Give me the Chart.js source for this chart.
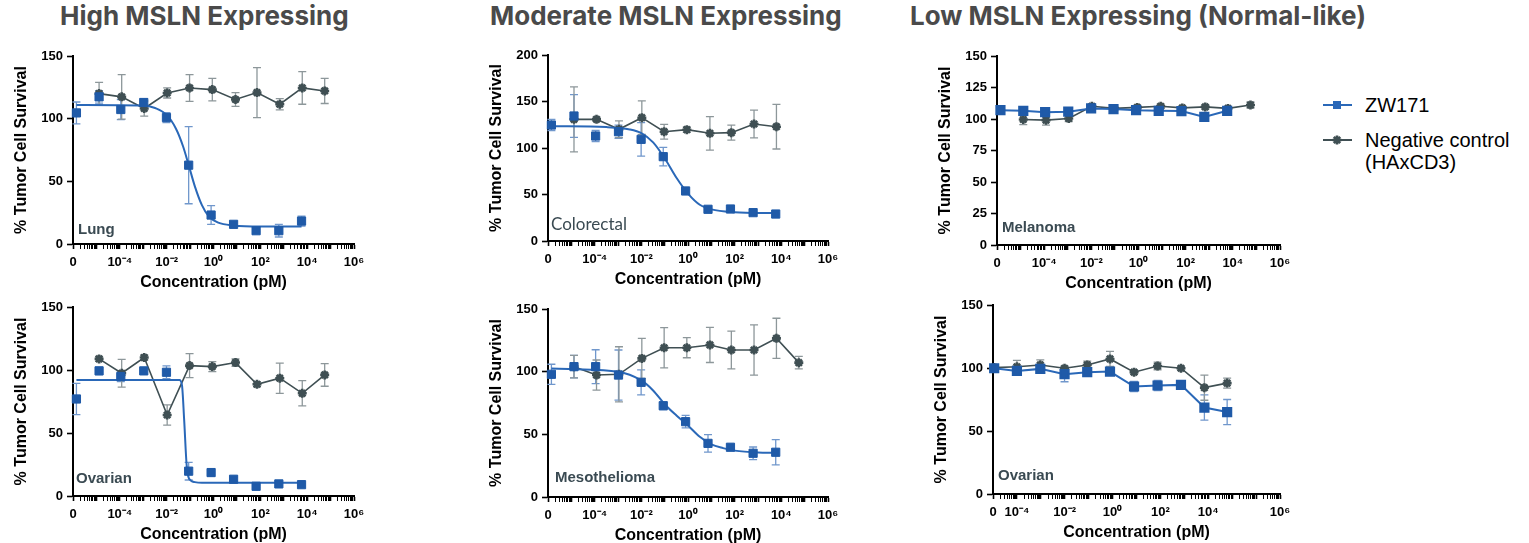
<!DOCTYPE html>
<html>
<head>
<meta charset="utf-8">
<script src="https://cdn.jsdelivr.net/npm/chart.js@4.4.0/dist/chart.umd.min.js"></script>
<style>
  body { margin: 0; background: #fff; width: 1529px; height: 543px; position: relative; overflow: hidden; font-family: "Liberation Sans", Arial, sans-serif; }
  .title { position: absolute; top: 0px; font-family: Inter, sans-serif; font-weight: 700; font-size: 26px; color: #4a4a4a; white-space: nowrap; }
  canvas.panel { position: absolute; }
  .lg-icon { position: absolute; }
  .lg-text { position: absolute; font-size: 20px; line-height: 22px; color: #000; white-space: nowrap; }
</style>
</head>
<body>
<div class="title" style="left:60px">High MSLN Expressing</div>
<div class="title" style="left:490px">Moderate MSLN Expressing</div>
<div class="title" style="left:910px">Low MSLN Expressing (Normal-like)</div>

<canvas class="panel" id="lung"></canvas>
<canvas class="panel" id="ovarianHigh"></canvas>
<canvas class="panel" id="colorectal"></canvas>
<canvas class="panel" id="meso"></canvas>
<canvas class="panel" id="melanoma"></canvas>
<canvas class="panel" id="ovarianLow"></canvas>

<canvas class="lg-icon" id="lgZW" width="36" height="16" style="left:1319px;top:97px"></canvas>
<div class="lg-text" style="left:1365px;top:94px">ZW171</div>
<canvas class="lg-icon" id="lgNeg" width="36" height="16" style="left:1319px;top:132px"></canvas>
<div class="lg-text" style="left:1365px;top:129px">Negative control<br>(HAxCD3)</div>

<script>
// dose series in pM; the untreated ("0") well is drawn at the axis break
const doseZW = [1.4e-6, 1.3e-5, 1.1e-4, 1.05e-3, 0.0098, 0.087, 0.79, 7.2, 66, 617, 5750];
const doseNeg = [1.3e-5, 1.2e-4, 1.1e-3, 0.0105, 0.095, 0.89, 8.7, 72, 676, 6170, 56000];
const doseLowOv = [1.12e-5, 1e-4, 9.5e-4, 9.8e-3, 0.087, 0.78, 7.9, 76, 724, 6900, 61700];

const xTickLabels = ['0', '10⁻⁴', '10⁻²', '10⁰', '10²', '10⁴', '10⁶'];
const xTickDoses = [1e-6, 1e-4, 1e-2, 1, 1e2, 1e4, 1e6];
const xTickDosesLowOv = [1e-5, 1e-4, 1e-2, 1, 1e2, 1e4, 1e7];

// Lung
const lungZW = [104.6, 117.4, 107.3, 112.9, 100.9, 62.9, 23.1, 15.7, 10.6, 10.6, 18.3];
const lungZWErr = [8.7, 5, 8, 3, 4, 30.8, 7.5, 2, 1, 5, 4];
const lungNeg = [120, 117.4, 108.1, 120.5, 124.5, 123.2, 115.3, 120.8, 111.5, 124.5, 122.1];
const lungNegErr = [9, 17.8, 6, 4, 10.7, 9, 5.5, 20, 4.5, 13, 10];
const lungFitDose = [1.4e-6, 1e-3, 3.2e-3, 0.01, 0.025, 0.05, 0.087, 0.16, 0.32, 0.63, 1.6, 7.2, 100, 5750];
const lungFit = [111, 110.5, 108.5, 103, 92, 78, 63, 46, 31, 22, 17, 14.8, 14, 14];

// Ovarian (high)
const ovHighZW = [77, 99.3, 94.8, 99.3, 98.2, 19.7, 18.6, 13.3, 7.7, 9.6, 9];
const ovHighZWErr = [12.4, 3, 4, 2, 5, 7, 3, 1.5, 1, 1.5, 1];
const ovHighNeg = [108.8, 97.4, 109.9, 64.3, 103.5, 102.7, 105.9, 88.7, 93.5, 81.5, 96.1];
const ovHighNegErr = [2, 11, 2, 8, 9.5, 4, 3, 2, 12, 10, 9];
const ovHighFitDose = [1.4e-6, 0.035, 0.045, 0.056, 0.071, 0.089, 0.16, 0.32, 6170];
const ovHighFit = [92, 92, 88, 60, 25, 14, 11, 10.5, 10.5];

// Colorectal
const crcZW = [124.7, 134.4, 112.9, 117.5, 109.3, 90.7, 53.8, 34.1, 34.4, 30.5, 29];
const crcZWErr = [6, 23, 6, 7, 18, 10, 2, 2, 1.5, 1, 1];
const crcNeg = [130.8, 130.8, 120.1, 132.6, 117.5, 119.7, 115.8, 116.5, 125.8, 122.9];
const crcNegErr = [35, 2, 9, 18, 8, 3, 18, 8, 15, 24];
const crcFitDose = [1.4e-6, 3.2e-4, 3.2e-3, 0.01, 0.032, 0.1, 0.32, 1, 3.2, 10, 100, 5100];
const crcFit = [123.5, 122.5, 120, 116, 106, 89, 68, 51, 39, 34, 31, 30];

// Mesothelioma
const mesoZW = [97.9, 104, 104, 97.3, 91.5, 72.8, 60.1, 42.8, 39.7, 34.9, 35.7];
const mesoZWErr = [8, 9, 13.5, 20, 10, 3, 5, 7, 2, 5, 10];
const mesoNeg = [104, 97.3, 97.9, 110.6, 119.1, 119.1, 121.3, 117.3, 117.3, 126.6, 107.2];
const mesoNegErr = [9, 12, 22, 16, 16, 8, 14, 15, 20, 16, 5];
const mesoFitDose = [1.4e-6, 1e-3, 0.01, 0.032, 0.1, 0.32, 1, 3.2, 10, 32, 100, 1000, 5100];
const mesoFit = [102.5, 100, 93, 85, 74, 65, 57, 48, 42, 39, 37, 35.5, 35.3];

// Melanoma
const melZW = [107, 106.5, 105.4, 105.8, 108.4, 107.9, 107, 106.5, 106.3, 101.7, 106.5];
const melZWErr = [1, 1, 1, 1, 1, 1, 1, 1, 1, 1, 1];
const melNeg = [99.6, 99.1, 100.4, 110.1, 108.4, 109.2, 110.1, 108.8, 109.6, 108.4, 111.1];
const melNegErr = [4, 4, 2.5, 1.5, 1, 1.5, 1.5, 1, 1.5, 1, 2.5];

// Ovarian (low)
const ovLowZW = [99.8, 97.7, 99.3, 95.1, 96.7, 97.2, 85.3, 86.1, 86.6, 68.6, 65];
const ovLowZWErr = [1.5, 3, 2, 6, 2, 2, 4, 4, 2, 10, 10];
const ovLowNeg = [100.3, 101, 102.4, 99.8, 102.4, 107.2, 96.7, 101.6, 99.8, 84.4, 88];
const ovLowNegErr = [1.5, 5, 4, 1.5, 3, 6, 1.5, 3, 1.5, 10, 4];

const BLUE = '#1f5aa8';
const BLUE_LINE = '#2a68b8';
const BLUE_ERR = '#7097cc';
const GREY = '#3f4f53';
const GREY_ERR = '#8d979a';
const LABEL_COLOR = '#3a4a52';

function pts(doses, values) {
    return values.map((v, i) => ({x: doses[i], y: v}));
}

const errorBars = {
    id: 'errorBars',
    beforeDatasetsDraw(chart) {
        const ctx = chart.ctx;
        const yScale = chart.scales.y;
        chart.data.datasets.forEach((ds, i) => {
            if (!ds.errors) return;
            const meta = chart.getDatasetMeta(i);
            ctx.save();
            ctx.strokeStyle = ds.errorColor;
            ctx.lineWidth = 1.3;
            meta.data.forEach((pt, j) => {
                const e = ds.errors[j];
                if (!e) return;
                const v = ds.data[j].y;
                const top = yScale.getPixelForValue(v + e);
                const bot = yScale.getPixelForValue(v - e);
                ctx.beginPath();
                ctx.moveTo(pt.x, top); ctx.lineTo(pt.x, bot);
                ctx.moveTo(pt.x - 4, top); ctx.lineTo(pt.x + 4, top);
                ctx.moveTo(pt.x - 4, bot); ctx.lineTo(pt.x + 4, bot);
                ctx.stroke();
            });
            ctx.restore();
        });
    }
};

const panelLabel = {
    id: 'panelLabel',
    afterDatasetsDraw(chart, args, opts) {
        const {ctx, chartArea} = chart;
        ctx.save();
        ctx.font = opts.font;
        ctx.fillStyle = LABEL_COLOR;
        ctx.textBaseline = 'middle';
        ctx.fillText(opts.text, chartArea.left + opts.dx, chartArea.bottom - opts.dy);
        ctx.restore();
    }
};

function zwPoints(doses, values, errors) {
    return {
        label: 'ZW171',
        data: pts(doses, values),
        errors: errors,
        errorColor: BLUE_ERR,
        showLine: false,
        pointStyle: 'rect',
        pointRadius: 5.8,
        backgroundColor: BLUE,
        borderColor: BLUE,
        borderWidth: 1,
        clip: false
    };
}

function zwLine(doses, values, errors) {
    return {
        label: 'ZW171',
        data: pts(doses, values),
        errors: errors,
        errorColor: BLUE_ERR,
        pointStyle: 'rect',
        pointRadius: 5.8,
        backgroundColor: BLUE,
        borderColor: BLUE_LINE,
        pointBorderColor: BLUE,
        borderWidth: 2,
        clip: false
    };
}

function zwFit(doses, values) {
    return {
        label: 'fit',
        data: pts(doses, values),
        pointRadius: 0,
        borderColor: BLUE_LINE,
        borderWidth: 2,
        cubicInterpolationMode: 'monotone',
        clip: false
    };
}

function negLine(doses, values, errors) {
    return {
        label: 'Negative control (HAxCD3)',
        data: pts(doses, values),
        errors: errors,
        errorColor: GREY_ERR,
        pointStyle: 'star',
        pointRadius: 4.5,
        pointBorderWidth: 2.6,
        backgroundColor: GREY,
        borderColor: GREY,
        borderWidth: 1.6,
        clip: false
    };
}

function makePanel(id, area, yMax, yStep, tickDoses, xMin, xMax, datasets, label) {
    const canvas = document.getElementById(id);
    const [l, r, t, b] = area;
    canvas.width = r - l + 73 + 20;
    canvas.height = b - t + 16 + 50;
    canvas.style.left = (l - 73) + 'px';
    canvas.style.top = (t - 16) + 'px';

    return new Chart(canvas.getContext('2d'), {
        type: 'line',
        data: {datasets: datasets},
        plugins: [errorBars, panelLabel],
        options: {
            responsive: false,
            animation: false,
            devicePixelRatio: 1,
            layout: {padding: {top: 16, right: 20, left: 0, bottom: 0}},
            plugins: {
                legend: {display: false},
                tooltip: {enabled: false},
                panelLabel: label
            },
            scales: {
                x: {
                    type: 'logarithmic',
                    min: xMin,
                    max: xMax,
                    afterFit: scale => { scale.height = 50; },
                    afterBuildTicks: scale => {
                        // drop the library's 1.5 x 10^n ticks, keep 1..9 per decade
                        scale.ticks = scale.ticks.filter(tk => {
                            const m = tk.value / Math.pow(10, Math.floor(Math.log10(tk.value) + 1e-9));
                            return Math.abs(m - 1.5) > 0.01;
                        });
                    },
                    border: {display: true, color: '#000', width: 2},
                    grid: {
                        drawOnChartArea: false,
                        drawTicks: true,
                        tickLength: 5,
                        tickColor: '#000',
                        tickWidth: ctx => {
                            const v = ctx.tick ? ctx.tick.value : 1;
                            const m = v / Math.pow(10, Math.floor(Math.log10(v) + 1e-9));
                            return Math.abs(m - 1) < 0.01 ? 1.6 : 1;
                        }
                    },
                    ticks: {
                        autoSkip: false,
                        maxRotation: 0,
                        minRotation: 0,
                        padding: 6,
                        color: '#000',
                        font: {family: '"Liberation Sans", Arial', size: 13, weight: 'bold'},
                        callback: value => {
                            const k = tickDoses.findIndex(d => Math.abs(Math.log10(d) - Math.log10(value)) < 1e-6);
                            return k >= 0 ? xTickLabels[k] : '';
                        }
                    },
                    title: {
                        display: true,
                        text: 'Concentration (pM)',
                        color: '#000',
                        padding: {top: 0, bottom: 2},
                        font: {family: '"Liberation Sans", Arial', size: 16, weight: 'bold'}
                    }
                },
                y: {
                    min: 0,
                    max: yMax,
                    afterFit: scale => { scale.width = 73; },
                    border: {display: true, color: '#000', width: 2},
                    grid: {drawOnChartArea: false, drawTicks: true, tickLength: 6, tickColor: '#000', tickWidth: 1.6},
                    ticks: {
                        stepSize: yStep,
                        padding: 4,
                        color: '#000',
                        font: {family: '"Liberation Sans", Arial', size: 13, weight: 'bold'}
                    },
                    title: {
                        display: true,
                        text: '% Tumor Cell Survival',
                        color: '#000',
                        padding: {top: 12, bottom: 0},
                        font: {family: '"Liberation Sans", Arial', size: 16, weight: 'bold'}
                    }
                }
            }
        }
    });
}

const boldLabel = 'bold 15px "Liberation Sans", Arial';

makePanel('lung', [73, 354, 56, 244], 150, 50, xTickDoses, 1e-6, 1e6, [
    zwPoints(doseZW, lungZW, lungZWErr),
    zwFit(lungFitDose, lungFit),
    negLine(doseNeg, lungNeg, lungNegErr)
], {text: 'Lung', font: boldLabel, dx: 5, dy: 14});

makePanel('ovarianHigh', [73, 354, 307, 496], 150, 50, xTickDoses, 1e-6, 1e6, [
    zwPoints(doseZW, ovHighZW, ovHighZWErr),
    zwFit(ovHighFitDose, ovHighFit),
    negLine(doseNeg, ovHighNeg, ovHighNegErr)
], {text: 'Ovarian', font: boldLabel, dx: 3, dy: 17});

makePanel('colorectal', [548, 828, 55, 241], 200, 50, xTickDoses, 1e-6, 1e6, [
    zwPoints(doseZW, crcZW, crcZWErr),
    zwFit(crcFitDose, crcFit),
    negLine(doseNeg, crcNeg, crcNegErr)
], {text: 'Colorectal', font: '17px Lato, "Open Sans", sans-serif', dx: 3, dy: 16});

makePanel('meso', [548, 828, 309, 497], 150, 50, xTickDoses, 1e-6, 1e6, [
    zwPoints(doseZW, mesoZW, mesoZWErr),
    zwFit(mesoFitDose, mesoFit),
    negLine(doseNeg, mesoNeg, mesoNegErr)
], {text: 'Mesothelioma', font: boldLabel, dx: 7, dy: 19});

makePanel('melanoma', [997, 1280, 56, 245], 150, 25, xTickDoses, 1e-6, 1e6, [
    zwLine(doseZW, melZW, melZWErr),
    negLine(doseNeg, melNeg, melNegErr)
], {text: 'Melanoma', font: boldLabel, dx: 5, dy: 17});

makePanel('ovarianLow', [993, 1280, 305, 494], 150, 50, xTickDosesLowOv, 1e-5, 1e7, [
    zwLine(doseLowOv, ovLowZW, ovLowZWErr),
    negLine(doseLowOv, ovLowNeg, ovLowNegErr)
], {text: 'Ovarian', font: boldLabel, dx: 5, dy: 18});

// legend icons
function legendIcon(id, color, style) {
    const ctx = document.getElementById(id).getContext('2d');
    ctx.strokeStyle = color;
    ctx.fillStyle = color;
    ctx.lineWidth = 2;
    ctx.beginPath();
    ctx.moveTo(4, 8);
    ctx.lineTo(33, 8);
    ctx.stroke();
    if (style === 'rect') {
        ctx.fillRect(14, 4, 8, 8);
    } else {
        ctx.lineWidth = 2.6;
        Chart.helpers.drawPoint(ctx, {pointStyle: 'star', radius: 4.5, borderWidth: 2.6, rotation: 0}, 18, 8);
    }
}
legendIcon('lgZW', BLUE_LINE, 'rect');
legendIcon('lgNeg', GREY, 'star');
</script>
</body>
</html>
